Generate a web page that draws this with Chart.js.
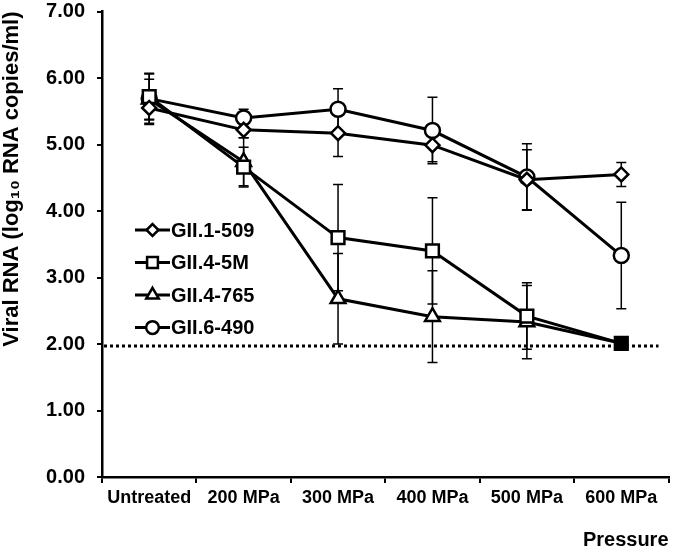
<!DOCTYPE html>
<html>
<head>
<meta charset="utf-8">
<script src="https://cdn.jsdelivr.net/npm/chart.js@4/dist/chart.umd.min.js"></script>
<style>
  html, body { margin: 0; padding: 0; background: #fff; }
  #wrap { width: 680px; height: 547px; position: relative; }
</style>
</head>
<body>
<div id="wrap"><canvas id="grafico"></canvas></div>
<script>
// datos
let categorias = ['Untreated', '200 MPa', '300 MPa', '400 MPa', '500 MPa', '600 MPa'];
let nombres = ['GII.1-509', 'GII.4-5M', 'GII.4-765', 'GII.6-490'];
let gii1_509 = [5.55, 5.22, 5.17, 4.99, 4.47, 4.55];
let gii1_509_err = [0.25, 0.12, 0.35, 0.25, 0.45, 0.18];
let gii4_5M = [5.72, 4.66, 3.60, 3.40, 2.42, 2.01];
let gii4_5M_err = [0.35, 0.30, 0.80, 0.80, 0.50, 0];
let gii4_765 = [5.68, 4.74, 2.68, 2.41, 2.33, 2.01];
let gii4_765_err = [0.30, 0.36, 0.68, 0.69, 0.55, 0];
let gii6_490 = [5.69, 5.40, 5.53, 5.21, 4.51, 3.33];
let gii6_490_err = [0.37, 0.13, 0.31, 0.50, 0.50, 0.80];
let limiteDeteccion = 1.97;
let yMin = 0, yMax = 7, yPaso = 1;

let valores = [gii1_509, gii4_5M, gii4_765, gii6_490];
let errores = [gii1_509_err, gii4_5M_err, gii4_765_err, gii6_490_err];
let estilos = ['rectRot', 'rect', 'triangle', 'circle'];
let radios = [7, 9, 8.5, 7.5];

let fuente = 'Arial, "Liberation Sans", sans-serif';

function serie(i) {
  let fondo = valores[i].map(() => '#fff');
  let borde = valores[i].map(() => '#000');
  let anchoBorde = valores[i].map(() => 2.5);
  // en 600 MPa el cuadrado y el triangulo se tapan y salen en negro
  if (i === 1) fondo[5] = '#000';
  if (i === 2) { fondo[5] = '#000'; borde[5] = '#fff'; anchoBorde[5] = 1.5; }
  return {
    label: nombres[i],
    data: valores[i],
    borderColor: '#000',
    borderWidth: 3,
    pointStyle: estilos[i],
    pointRadius: radios[i],
    pointHoverRadius: radios[i],
    pointBackgroundColor: fondo,
    pointBorderColor: borde,
    pointBorderWidth: anchoBorde,
    tension: 0,
    fill: false
  };
}

// barras de error y linea punteada
let barrasError = {
  id: 'barrasError',
  beforeDatasetsDraw(chart) {
    let ctx = chart.ctx;
    let x = chart.scales.x, y = chart.scales.y;
    let area = chart.chartArea;
    ctx.save();
    ctx.strokeStyle = '#000';
    ctx.lineWidth = 3;
    ctx.setLineDash([3, 3]);
    ctx.beginPath();
    let yl = y.getPixelForValue(limiteDeteccion);
    ctx.moveTo(area.left + 2, yl);
    ctx.lineTo(area.right - 10, yl);
    ctx.stroke();
    ctx.setLineDash([]);
    ctx.lineWidth = 1.5;
    for (let i = 0; i < valores.length; i++) {
      for (let j = 0; j < valores[i].length; j++) {
        let e = errores[i][j];
        if (!e) continue;
        let px = x.getPixelForValue(j);
        let arriba = y.getPixelForValue(valores[i][j] + e);
        let abajo = y.getPixelForValue(valores[i][j] - e);
        ctx.beginPath();
        ctx.moveTo(px, arriba); ctx.lineTo(px, abajo);
        ctx.moveTo(px - 5, arriba); ctx.lineTo(px + 5, arriba);
        ctx.moveTo(px - 5, abajo); ctx.lineTo(px + 5, abajo);
        ctx.stroke();
      }
    }
    ctx.restore();
  }
};

// leyenda dentro del area del grafico
let leyenda = {
  id: 'leyenda',
  afterDraw(chart) {
    let ctx = chart.ctx;
    ctx.save();
    let x0 = 135, x1 = 170, y0 = 230, paso = 32.5;
    ctx.font = 'bold 20px ' + fuente;
    ctx.textBaseline = 'middle';
    ctx.fillStyle = '#000';
    for (let i = 0; i < nombres.length; i++) {
      let yy = y0 + i * paso;
      ctx.strokeStyle = '#000';
      ctx.lineWidth = 3;
      ctx.beginPath();
      ctx.moveTo(x0, yy); ctx.lineTo(x1, yy);
      ctx.stroke();
      ctx.fillStyle = '#fff';
      ctx.strokeStyle = '#000';
      ctx.lineWidth = 2.5;
      Chart.helpers.drawPoint(ctx, {pointStyle: estilos[i], radius: radios[i] * 0.85, rotation: 0, borderWidth: 2.5}, (x0 + x1) / 2, yy);
      ctx.fillStyle = '#000';
      ctx.fillText(nombres[i], x1 + 1, yy + 1);
    }
    ctx.restore();
  }
};

let grafico = new Chart(document.getElementById('grafico').getContext('2d'), {
  type: 'line',
  data: {
    labels: categorias,
    datasets: [serie(0), serie(1), serie(2), serie(3)]
  },
  options: {
    responsive: true,
    maintainAspectRatio: false,
    animation: false,
    layout: { padding: { top: 9, right: 3, left: 0, bottom: 0 } },
    plugins: {
      legend: { display: false },
      tooltip: { enabled: false }
    },
    scales: {
      x: {
        offset: true,
        grid: { offset: true, drawOnChartArea: false, color: '#000', lineWidth: 2, tickLength: 6 },
        border: { color: '#000', width: 2.5 },
        ticks: { color: '#000', font: { family: fuente, size: 18, weight: 'bold' }, padding: 4, maxRotation: 0, autoSkip: false },
        title: { display: true, text: 'Pressure', align: 'end', color: '#000', font: { family: fuente, size: 20, weight: 'bold' }, padding: { top: 0, bottom: -5 } },
        afterFit(s) { s.height = 70; s.paddingLeft = 0; s.paddingRight = 0; }
      },
      y: {
        min: yMin,
        max: yMax,
        grid: { drawOnChartArea: false, color: '#000', lineWidth: 2, tickLength: 5 },
        border: { color: '#000', width: 2.5 },
        ticks: { stepSize: yPaso, color: '#000', padding: 12, font: { family: fuente, size: 20, weight: 'bold' }, callback: v => v.toFixed(2) },
        title: { display: true, text: 'Viral RNA (log\u2081\u2080 RNA copies/ml)', align: 'end', color: '#000', font: { family: fuente, size: 22, weight: 'bold' }, padding: { top: -1, bottom: 0 } },
        afterFit(s) { s.width = 102; s.paddingTop = 0; s.paddingBottom = 0; }
      }
    }
  },
  plugins: [barrasError, leyenda]
});
</script>
</body>
</html>
